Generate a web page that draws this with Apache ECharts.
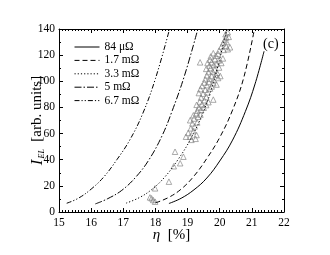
<!DOCTYPE html>
<html><head><meta charset="utf-8">
<script src="https://cdn.jsdelivr.net/npm/echarts@6/dist/echarts.min.js"></script>
<style>html,body{margin:0;padding:0;background:#fff}#c{width:330px;height:255px}</style>
</head><body><div id="c"></div>
<script>
const seriesNames = ['84 μΩ', '1.7 mΩ', '3.3 mΩ', '5 mΩ', '6.7 mΩ'];
const xTicks = [15, 22, 1];
const yTicks = [0, 140, 20];
const curve84u = [[18.42,6.5],[18.8,10.5],[19.2,17],[19.6,26],[20.0,39],[20.4,55],[20.8,77],[21.1,98],[21.38,123]];
const curve1p7 = [[18.0,7],[18.4,11],[18.8,17.5],[19.2,27.5],[19.6,41],[20.0,57],[20.4,78],[20.75,103],[21.08,140]];
const curve3p3 = [[17.09,6.8],[17.5,11],[17.9,17.5],[18.3,27],[18.7,40],[19.1,56],[19.5,77],[19.85,103],[20.22,140]];
const curve5 = [[16.13,6.2],[16.5,10],[16.95,16.5],[17.4,27],[17.8,40],[18.2,58],[18.5,76],[18.9,104],[19.32,140]];
const curve6p7 = [[15.24,6.7],[15.6,10.5],[16.0,17.5],[16.4,27],[16.8,40],[17.2,55],[17.6,75],[18.0,102],[18.44,140]];
const measured = [
[17.83,11.2],[17.93,9.2],[17.99,7.9],[17.88,10.5],[17.99,18.1],[18.42,23.2],[18.57,35.0],[18.77,37.3],[18.87,42.3],[18.61,46.1],
[18.95,57.6],[19.08,57.6],[19.28,58.9],[19.02,60.5],[19.18,61.8],[19.25,56.0],[19.12,55.2],
[19.10,64.0],[19.22,65.5],[19.15,67.8],[19.30,68.5],[19.08,70.2],[19.20,71.5],[19.33,72.8],[19.18,74.0],[19.27,75.5],[19.40,74.5],
[19.30,77.5],[19.42,78.2],[19.35,80.0],[19.50,79.8],[19.28,82.0],[19.45,82.5],[19.58,81.8],[19.38,84.5],[19.52,85.5],[19.65,84.0],[19.80,86.0],[19.42,87.5],[19.58,88.0],
[19.35,91.0],[19.48,90.5],[19.62,91.5],[19.40,94.0],[19.55,93.5],[19.70,94.5],[19.45,96.5],[19.60,97.0],[19.75,96.0],[19.52,99.0],[19.66,99.5],[19.80,98.5],[19.90,97.5],
[19.55,101.5],[19.68,102.0],[19.82,101.0],[19.95,102.5],[19.60,104.5],[19.75,104.0],[19.88,105.0],[19.65,107.0],[19.78,107.5],[19.92,106.5],[20.02,104.0],[19.58,109.5],[19.72,110.0],[19.85,109.0],[19.98,110.5],[19.68,112.0],[19.82,112.5],
[19.62,114.0],[19.75,114.5],[19.90,113.5],[20.05,114.0],[19.70,116.5],[19.85,117.0],[19.98,116.0],[20.10,117.5],[19.72,119.0],[19.88,119.5],[19.80,121.5],[19.95,121.0],[19.39,114.5],
[19.98,123.5],[20.12,124.0],[20.25,124.5],[20.05,126.5],[20.20,127.0],[20.32,126.0],[20.10,129.0],[20.22,130.0],[20.15,131.5],
[20.20,133.5],[20.28,134.0],[20.18,136.0],[20.25,137.5]
];
const curves = [curve84u, curve1p7, curve3p3, curve5, curve6p7];
const dashes = ['solid', [5,3], [1.2,2], [7,2,1.5,2], [5,2,1.2,2,1.2,2]];

const FONT = 'Liberation Serif';
const chart = echarts.init(document.getElementById('c'), null, {renderer:'canvas'});
function xAx(pos, labels){
  return {type:'value', position:pos, min:xTicks[0], max:xTicks[1], interval:xTicks[2],
    axisLine:{show:true, onZero:false, lineStyle:{color:'#000', width:1}},
    axisTick:{show:true, inside:true, length:4, lineStyle:{color:'#000'}},
    minorTick:{show:true, splitNumber:10, length:2, lineStyle:{color:'#000'}},
    splitLine:{show:false},
    axisLabel:{show:labels, color:'#000', fontFamily:FONT, fontSize:11.5, margin:5},
    name: labels ? '{i|η}  [%]' : '', nameLocation:'middle', nameGap:16, nameMoveOverlap:false,
    nameTextStyle:{fontFamily:FONT, fontSize:15, color:'#000', rich:{i:{fontFamily:FONT, fontStyle:'italic', fontSize:15, color:'#000'}}}
  };
}
function yAx(pos, labels){
  return {type:'value', position:pos, min:yTicks[0], max:yTicks[1], interval:yTicks[2],
    axisLine:{show:true, onZero:false, lineStyle:{color:'#000', width:1}},
    axisTick:{show:true, inside:true, length:4, lineStyle:{color:'#000'}},
    minorTick:{show:true, splitNumber:2, length:2, lineStyle:{color:'#000'}},
    splitLine:{show:false},
    axisLabel:{show:labels, color:'#000', fontFamily:FONT, fontSize:11.5, margin:4},
    name: labels ? '{i|I}{s|EL}  [arb. units]' : '', nameLocation:'middle', nameGap:13, nameRotate:90, nameMoveOverlap:false,
    nameTextStyle:{fontFamily:FONT, fontSize:15, color:'#000', rich:{
      i:{fontFamily:FONT, fontStyle:'italic', fontSize:17, color:'#000'},
      s:{fontFamily:FONT, fontStyle:'italic', fontSize:8, color:'#000', padding:[9,0,0,1]}}}
  };
}
const series = curves.map((d,i)=>({
  name: seriesNames[i], type:'line', data:d, smooth:0.4, symbol:'none', showSymbol:false,
  clip:true, itemStyle:{color:'rgba(0,0,0,0)'}, lineStyle:{color:'#000', width:1, type:dashes[i]}, z:3
}));
series.push({name:'measured', type:'scatter', data:measured, symbol:'triangle', symbolSize:5.5,
  itemStyle:{color:'rgba(0,0,0,0)', borderColor:'#7a7a7a', borderWidth:0.8}, z:2});
chart.setOption({
  animation:false,
  backgroundColor:'#fff',
  grid:{left:59, right:46, top:29, bottom:43},
  xAxis:[xAx('bottom', true), xAx('top', false)],
  yAxis:[yAx('left', true), yAx('right', false)],
  legend:{data:seriesNames, orient:'vertical', left:69, top:36, itemWidth:25, itemHeight:10, itemGap:1.4,
    itemStyle:{opacity:0}, lineStyle:{width:1},
    textStyle:{fontFamily:FONT, fontSize:11.5, color:'#000'}},
  graphic:[{type:'text', left:263, top:37, style:{text:'(c)', fontFamily:FONT, fontSize:14, fill:'#000'}}],
  series: series
});
</script></body></html>
